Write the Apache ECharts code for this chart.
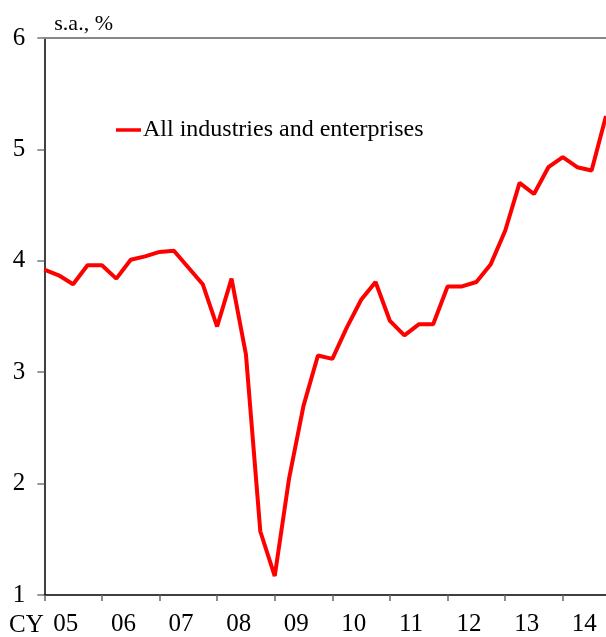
<!DOCTYPE html>
<html>
<head>
<meta charset="utf-8">
<script src="https://cdn.jsdelivr.net/npm/echarts@6/dist/echarts.min.js"></script>
<style>html,body{margin:0;padding:0;background:#fff}#c{width:606px;height:637px}</style>
</head>
<body>
<div id="c"></div>
<script>
// Quarterly categories 2005Q1 .. 2014Q4
const years = ['05','06','07','08','09','10','11','12','13','14'];
const quarters = [];
years.forEach(y => { for (let q = 1; q <= 4; q++) quarters.push(y + 'Q' + q); });

const seriesName = 'All industries and enterprises';
const values = [
  3.92, 3.87, 3.79, 3.96, 3.96, 3.84, 4.01, 4.04, 4.08, 4.09,
  3.94, 3.79, 3.41, 3.84, 3.16, 1.57, 1.17, 2.05, 2.70, 3.15,
  3.12, 3.40, 3.65, 3.81, 3.46, 3.33, 3.43, 3.43, 3.77, 3.77,
  3.81, 3.97, 4.27, 4.70, 4.60, 4.84, 4.93, 4.84, 4.81, 5.30
];
const yTicks = [1, 2, 3, 4, 5, 6];

const font = 'Liberation Serif';
const chart = echarts.init(document.getElementById('c'));
chart.setOption({
  animation: false,
  backgroundColor: '#fff',
  grid: { left: 44.3, top: 38, right: -1.6, bottom: 40.3, containLabel: false },
  legend: {
    data: [seriesName],
    left: 116, top: 118, padding: 0,
    icon: 'rect', itemWidth: 25, itemHeight: 3.5,
    textStyle: { fontFamily: font, fontSize: 24, color: '#000', padding: [0, 0, 0, -3] }
  },
  graphic: [
    { type: 'text', left: 9, top: 613, style: { text: 'CY', font: '25px "Liberation Serif"', fill: '#000' } }
  ],
  xAxis: [{
    type: 'category', data: quarters, boundaryGap: false,
    axisLine: { lineStyle: { color: '#000', width: 1.5 } },
    axisTick: { interval: 3, length: 6, lineStyle: { color: '#666', width: 1.5 } },
    axisLabel: {
      interval: 3, fontFamily: font, fontSize: 25, color: '#000', margin: 17,
      align: 'left', padding: [0, 0, 0, 9],
      formatter: v => v.slice(0, 2)
    }
  }, {
    type: 'category', data: quarters, boundaryGap: false, position: 'top',
    axisLine: { lineStyle: { color: '#888', width: 2 } },
    axisTick: { show: false }, axisLabel: { show: false }
  }],
  yAxis: {
    type: 'value', min: yTicks[0], max: yTicks[yTicks.length - 1], interval: 1,
    name: 's.a., %', nameLocation: 'end', nameGap: 3,
    nameTextStyle: { fontFamily: font, fontSize: 22, color: '#000', align: 'left', padding: [0, 0, 0, 10] },
    axisLine: { show: true, lineStyle: { color: '#000', width: 1.5 } },
    axisTick: { show: true, length: 7, lineStyle: { color: '#777', width: 1.5 } },
    axisLabel: { fontFamily: font, fontSize: 25, color: '#000', margin: 19 },
    splitLine: { show: false }
  },
  series: [{
    name: seriesName, type: 'line', data: values,
    showSymbol: false, symbol: 'none', clip: true,
    lineStyle: { color: '#ff0000', width: 4 }, itemStyle: { color: '#ff0000' }
  }]
});
</script>
</body>
</html>
